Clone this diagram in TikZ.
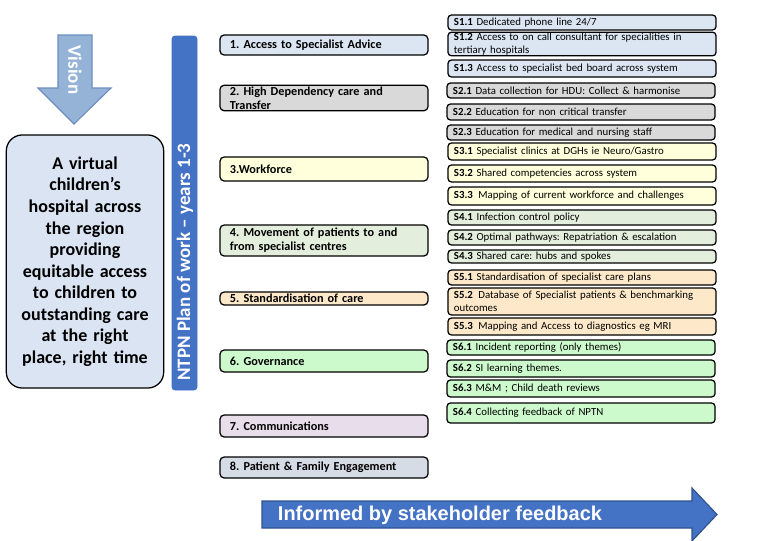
\documentclass[tikz,border=0pt]{standalone}
\usepackage{fontspec}
\setmainfont{Carlito}
\newfontfamily\arialfont{Liberation Sans}
\usetikzlibrary{positioning}
\frenchspacing

\definecolor{visionblue}{HTML}{95B3D7}
\definecolor{visionedge}{HTML}{6C8EBF}
\definecolor{planblue}{HTML}{4472C4}
\definecolor{planedge}{HTML}{2F528F}
\definecolor{goalfill}{HTML}{DBE4F2}
\definecolor{accessfill}{HTML}{DCE6F2}
\definecolor{hdufill}{HTML}{D9D9D9}
\definecolor{workfill}{HTML}{FFFFDC}
\definecolor{movefill}{HTML}{E3EEDC}
\definecolor{standfill}{HTML}{FDE9C9}
\definecolor{govfill}{HTML}{CDFACD}
\definecolor{commsfill}{HTML}{E8DDEB}
\definecolor{engagefill}{HTML}{D6DCE5}

\tikzset{
  theme/.style={draw, line width=0.9pt, rounded corners=3pt, text width=4.7cm,
    inner xsep=0.25cm, inner ysep=1pt, align=left, font=\bfseries\fontsize{8.7}{10}\selectfont},
  task/.style={draw, line width=0.9pt, rounded corners=2.5pt, text width=6.4cm,
    inner xsep=0.15cm, inner ysep=0.5pt, align=left, font=\fontsize{7.7}{9.2}\selectfont},
}

\begin{document}
\begin{tikzpicture}[x=0.025cm, y=-0.025cm]
                \useasboundingbox (0,0) rectangle (780,540);

                % Vision arrow and goal
                \draw[fill=visionblue, draw=visionedge, line width=0.8pt]
                  (58,35) -- (92,35) -- (92,88) -- (111,88) -- (74,124) -- (38,88) -- (58,88) -- cycle;
                \node[rotate=-90, text=white, font=\bfseries\fontsize{13.5}{15}\selectfont] (vision) at (75,70) {Vision};
                \node[draw, line width=0.9pt, fill=goalfill, rounded corners=0.4cm, minimum width=3.9cm,
                  minimum height=6.325cm, text width=3.7cm, align=center,
                  font=\bfseries\fontsize{12.8}{15.3}\selectfont] (goal) at (85,261.5)
                  {A virtual\\ children’s\\ hospital across\\ the region\\ providing\\ equitable access\\
                   to children to\\ outstanding care\\ at the right\\ place, right time};

                % Plan of work bar
                \draw[fill=planblue, draw=planblue, rounded corners=2pt] (172,36) rectangle (197,390);
                \node[rotate=90, text=white, font=\bfseries\fontsize{13.5}{15}\selectfont] (plan) at (185,262)
                  {NTPN Plan of work – years 1-3};

                % Themes
                \node[theme, fill=accessfill, minimum height=0.5cm] (t1) at (324,45) {1. Access to Specialist Advice};
                \node[theme, fill=hdufill, minimum height=0.6cm] (t2) at (324,98) {2. High Dependency care and\\ Transfer};
                \node[theme, fill=workfill, minimum height=0.6cm] (t3) at (324,169) {3.Workforce};
                \node[theme, fill=movefill, minimum height=0.775cm] (t4) at (324,240.5) {4. Movement of patients to and\\ from specialist centres};
                \node[theme, fill=standfill, minimum height=0.325cm] (t5) at (324,298.5) {5. Standardisation of care};
                \node[theme, fill=govfill, minimum height=0.55cm] (t6) at (324,361) {6. Governance};
                \node[theme, fill=commsfill, minimum height=0.55cm] (t7) at (324,426) {7. Communications};
                \node[theme, fill=engagefill, minimum height=0.525cm] (t8) at (324,467.5) {8. Patient \& Family Engagement};

                % Sub tasks
                \node[task, fill=accessfill, minimum height=0.375cm] (s11) at (582,22.5) {\textbf{S1.1} Dedicated phone line 24/7};
                \node[task, fill=accessfill, minimum height=0.55cm] (s12) at (582,44) {\textbf{S1.2} Access to on call consultant for specialities in\\ tertiary hospitals};
                \node[task, fill=accessfill, minimum height=0.425cm] (s13) at (582,68.5) {\textbf{S1.3} Access to specialist bed board across system};
                \node[task, fill=hdufill, minimum height=0.375cm] (s21) at (581,90.5) {\textbf{S2.1} Data collection for HDU: Collect \& harmonise};
                \node[task, fill=hdufill, minimum height=0.4cm] (s22) at (581,112) {\textbf{S2.2} Education for non critical transfer};
                \node[task, fill=hdufill, minimum height=0.375cm] (s23) at (581,132.5) {\textbf{S2.3} Education for medical and nursing staff};
                \node[task, fill=workfill, minimum height=0.425cm] (s31) at (582,151.5) {\textbf{S3.1} Specialist clinics at DGHs ie Neuro/Gastro};
                \node[task, fill=workfill, minimum height=0.425cm] (s32) at (582,173.5) {\textbf{S3.2} Shared competencies across system};
                \node[task, fill=workfill, minimum height=0.45cm] (s33) at (582,196) {\textbf{S3.3}\, Mapping of current workforce and challenges};
                \node[task, fill=movefill, minimum height=0.375cm] (s41) at (582,217.5) {\textbf{S4.1} Infection control policy};
                \node[task, fill=movefill, minimum height=0.375cm] (s42) at (582,237.5) {\textbf{S4.2} Optimal pathways: Repatriation \& escalation};
                \node[task, fill=movefill, minimum height=0.325cm] (s43) at (582,256.5) {\textbf{S4.3} Shared care: hubs and spokes};
                \node[task, fill=standfill, minimum height=0.375cm] (s51) at (582,277.5) {\textbf{S5.1} Standardisation of specialist care plans};
                \node[task, fill=standfill, minimum height=0.675cm] (s52) at (582,301.5) {\textbf{S5.2}\, Database of Specialist patients \& benchmarking\\ outcomes};
                \node[task, fill=standfill, minimum height=0.425cm] (s53) at (582,326.5) {\textbf{S5.3}\, Mapping and Access to diagnostics eg MRI};
                \node[task, fill=govfill, minimum height=0.375cm] (s61) at (581,347.5) {\textbf{S6.1} Incident reporting (only themes)};
                \node[task, fill=govfill, minimum height=0.425cm] (s62) at (581,368.5) {\textbf{S6.2} SI learning themes.};
                \node[task, fill=govfill, minimum height=0.425cm] (s63) at (581,388.5) {\textbf{S6.3} M\&M ; Child death reviews};
                \node[task, fill=govfill, minimum height=0.5cm] (s64) at (581,413) {\textbf{S6.4} Collecting feedback of NPTN};

                % Stakeholder arrow
                \draw[fill=planblue, draw=planedge, line width=0.8pt]
                  (262,501) -- (692,501) -- (692,488) -- (717,514.5) -- (692,541) -- (692,528) -- (262,528) -- cycle;
                \node[anchor=west, text=white, font=\arialfont\bfseries\fontsize{14.2}{16}\selectfont] (feedback) at (273,515)
                  {Informed by stakeholder feedback};
            \end{tikzpicture}
\end{document}
